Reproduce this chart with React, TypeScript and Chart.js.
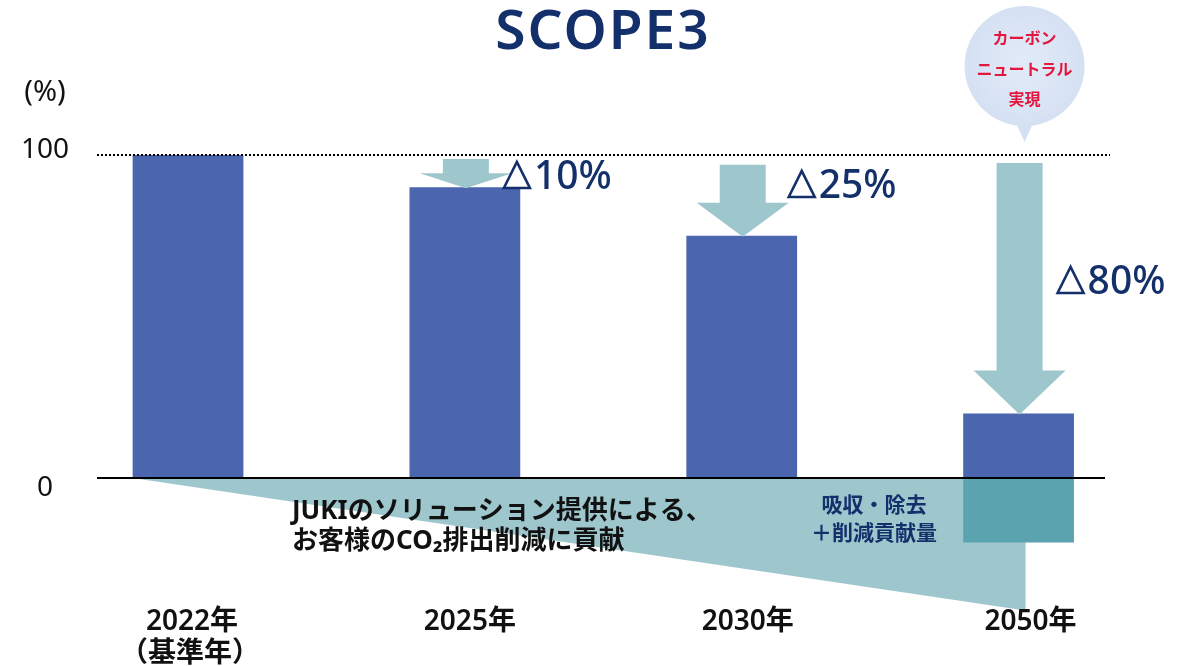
import React, { useEffect, useRef } from "react";
import { Chart, registerables } from "chart.js";

Chart.register(...registerables);

// ---- data ----
const categories = ["2022年", "2025年", "2030年", "2050年"];
const subLabels = ["（基準年）", "", "", ""];
const emissions = [100, 90, 75, 20];
const removals = [null, null, null, -20];
const reductionLabels = ["", "10%", "25%", "80%"];
const arrowStart = [null, 98.8, 97, 97.5];
const contributionDepth = -41;
const yTickValues = [100, 0];
const yTickLabels = ["100", "0"];
const titleText = "SCOPE3";
const unitText = "(%)";
const contributionText = ["JUKIのソリューション提供による、", "お客様のCO₂排出削減に貢献"];
const removalText = ["吸収・除去", "＋削減貢献量"];
const bubbleText = ["カーボン", "ニュートラル", "実現"];

const NAVY = "#13306b";
const BAR = "#4b65ae";
const TEAL = "#5ba3ae";
const LIGHT = "#9dc6cd";
const JP = '"Noto Sans", "Noto Sans CJK JP", sans-serif';

const overlay = {
  id: "overlay",
  beforeDatasetsDraw(chart: any) {
    const ctx = chart.ctx;
    const y = chart.scales.y;
    const bar0 = chart.getDatasetMeta(0).data[0];
    const barLast = chart.getDatasetMeta(0).data[3];
    const x0 = bar0.x - bar0.width / 2;
    const x1 = barLast.x + 7;
    ctx.save();
    ctx.fillStyle = LIGHT;
    ctx.beginPath();
    ctx.moveTo(x0, y.getPixelForValue(0));
    ctx.lineTo(x1, y.getPixelForValue(0));
    ctx.lineTo(x1, y.getPixelForValue(contributionDepth));
    ctx.closePath();
    ctx.fill();
    ctx.restore();
  },
  afterDatasetsDraw(chart: any) {
    const ctx = chart.ctx;
    const y = chart.scales.y;
    const meta = chart.getDatasetMeta(0);
    const y0 = y.getPixelForValue(0);
    const y100 = y.getPixelForValue(100);
    ctx.save();

    // zero line
    ctx.strokeStyle = "#000";
    ctx.lineWidth = 2;
    ctx.beginPath();
    ctx.moveTo(97, y0);
    ctx.lineTo(1105, y0);
    ctx.stroke();

    // dotted 100 line
    ctx.setLineDash([2, 2]);
    ctx.beginPath();
    ctx.moveTo(97, y100);
    ctx.lineTo(1110, y100);
    ctx.stroke();
    ctx.setLineDash([]);

    // arrows
    const headH = [0, 15, 34, 44];
    ctx.fillStyle = LIGHT;
    emissions.forEach((v, i) => {
      const s = arrowStart[i];
      if (s == null) return;
      const cx = meta.data[i].x + 1;
      const top = y.getPixelForValue(s);
      const tip = y.getPixelForValue(v) + 1;
      const hb = tip - headH[i];
      ctx.beginPath();
      ctx.moveTo(cx - 23, top);
      ctx.lineTo(cx + 23, top);
      ctx.lineTo(cx + 23, hb);
      ctx.lineTo(cx + 46, hb);
      ctx.lineTo(cx, tip);
      ctx.lineTo(cx - 46, hb);
      ctx.lineTo(cx - 23, hb);
      ctx.closePath();
      ctx.fill();
    });

    // reduction labels
    const labelPos = [null, [37, 175], [45, 184], [37, 280]];
    ctx.fillStyle = NAVY;
    ctx.textBaseline = "alphabetic";
    ctx.textAlign = "left";
    reductionLabels.forEach((t, i) => {
      const p = labelPos[i];
      if (!t || !p) return;
      const lx = meta.data[i].x + p[0];
      const base = p[1] + 14;
      ctx.strokeStyle = NAVY;
      ctx.lineWidth = 2.6;
      ctx.lineJoin = "miter";
      ctx.beginPath();
      ctx.moveTo(lx + 2, base - 1);
      ctx.lineTo(lx + 15, base - 27);
      ctx.lineTo(lx + 28, base - 1);
      ctx.closePath();
      ctx.stroke();
      ctx.font = `500 39px ${JP}`;
      ctx.fillText(t, lx + 32, base);
    });

    // title
    ctx.textAlign = "center";
    ctx.textBaseline = "middle";
    ctx.fillStyle = NAVY;
    (ctx as any).letterSpacing = "2px";
    ctx.font = `600 55px ${JP}`;
    ctx.fillText(titleText, 603, 33);
    (ctx as any).letterSpacing = "0px";

    // y ticks
    ctx.fillStyle = "#111";
    ctx.font = `400 28px ${JP}`;
    ctx.textAlign = "center";
    ctx.fillText(yTickLabels[0], 45, y.getPixelForValue(yTickValues[0]) - 5);
    ctx.fillText(yTickLabels[1], 45, y.getPixelForValue(yTickValues[1]) + 10);
    ctx.font = `400 29px ${JP}`;
    ctx.fillText(unitText, 45, 93);

    // x labels
    const xOff = [4, 5, 6, 12];
    ctx.font = `600 28px ${JP}`;
    categories.forEach((c, i) => {
      const cx = meta.data[i].x + xOff[i];
      ctx.fillText(c, cx, 622);
      if (subLabels[i]) ctx.fillText(subLabels[i], cx - 2, 654);
    });

    // contribution text
    ctx.textAlign = "left";
    ctx.fillStyle = "#111";
    ctx.font = `700 26px ${JP}`;
    ctx.fillText(contributionText[0], 292, 512);
    ctx.fillText(contributionText[1], 292, 542);

    // removal text
    ctx.textAlign = "center";
    ctx.fillStyle = NAVY;
    ctx.font = `700 21px ${JP}`;
    ctx.fillText(removalText[0], 874, 506);
    ctx.fillText(removalText[1], 874, 534);

    // bubble
    const bx = meta.data[3].x + 6;
    const by = 66;
    const r = 60;
    const g = ctx.createRadialGradient(bx, by, 10, bx, by, r);
    g.addColorStop(0, "#e0e9f7");
    g.addColorStop(1, "#d5e1f3");
    ctx.fillStyle = g;
    ctx.beginPath();
    ctx.arc(bx, by, r, 0, Math.PI * 2);
    ctx.fill();
    ctx.beginPath();
    ctx.moveTo(bx - 10, by + r - 6);
    ctx.lineTo(bx, 142);
    ctx.lineTo(bx + 10, by + r - 6);
    ctx.closePath();
    ctx.fill();
    ctx.fillStyle = "#e3173e";
    ctx.font = `700 16px ${JP}`;
    ctx.fillText(bubbleText[0], bx, 39);
    ctx.fillText(bubbleText[1], bx, 70);
    ctx.fillText(bubbleText[2], bx, 100);

    ctx.restore();
  },
};

export default function App() {
  const ref = useRef<HTMLCanvasElement>(null);
  useEffect(() => {
    document.body.style.margin = "0";
    const ppu = (478 - 155) / 100;
    const yMax = 140;
    const yMin = -40;
    const top = 155 - (yMax - 100) * ppu;
    const bottom = 666 - (478 - yMin * ppu);
    const chart = new Chart(ref.current!, {
      type: "bar",
      data: {
        labels: categories,
        datasets: [
          {
            data: emissions,
            backgroundColor: BAR,
            categoryPercentage: 1,
            barPercentage: 0.4,
          },
          {
            data: removals,
            backgroundColor: TEAL,
            categoryPercentage: 1,
            barPercentage: 0.4,
          },
        ],
      },
      options: {
        responsive: false,
        animation: false,
        layout: { padding: { left: 49.6, right: 1199 - 1157, top, bottom } },
        plugins: { legend: { display: false }, tooltip: { enabled: false }, title: { display: false } },
        scales: {
          x: { stacked: true, display: false },
          y: { stacked: true, display: false, min: yMin, max: yMax },
        },
      },
      plugins: [overlay],
    });
    return () => chart.destroy();
  }, []);
  return (
    <div style={{ width: 1199, height: 666, background: "#fff" }}>
      <canvas ref={ref} width={1199} height={666} />
    </div>
  );
}
